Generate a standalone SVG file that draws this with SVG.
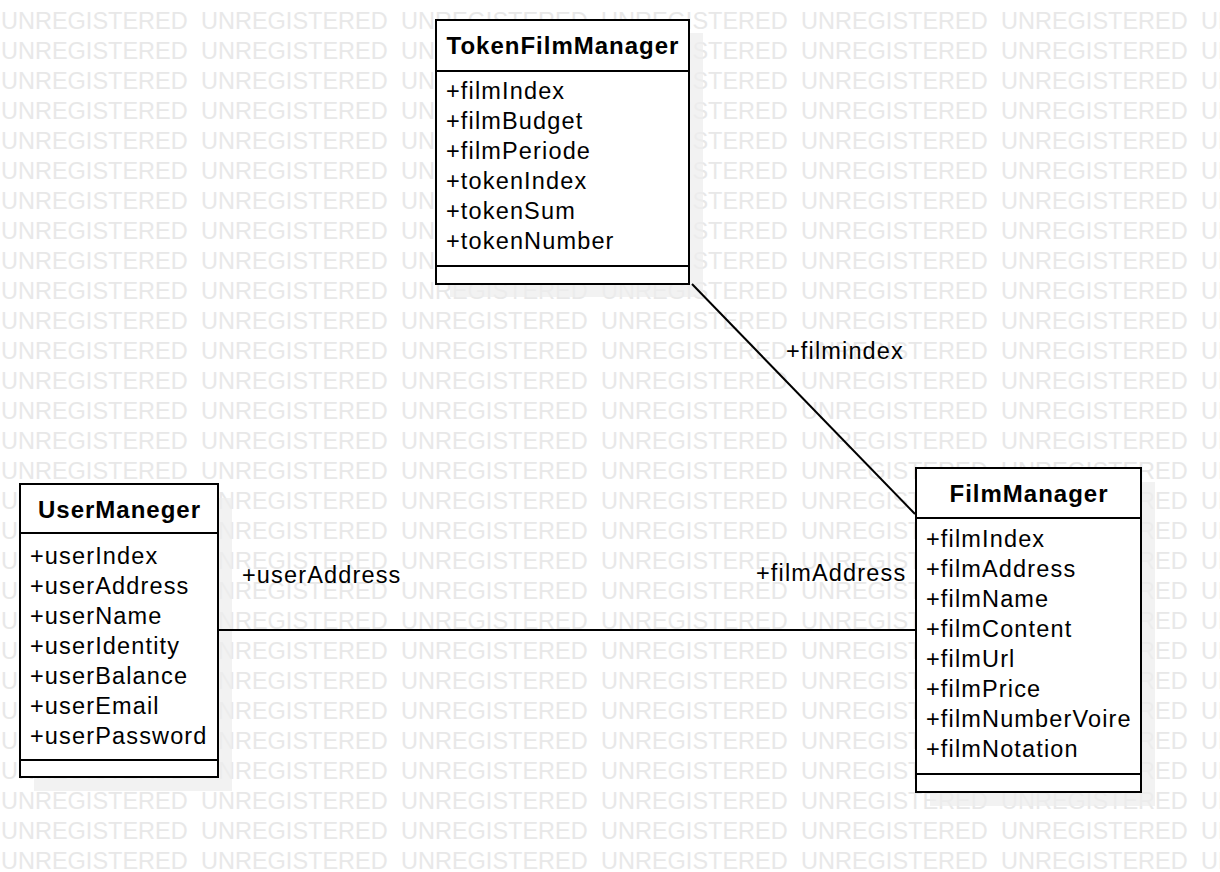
<svg xmlns="http://www.w3.org/2000/svg" xmlns:xlink="http://www.w3.org/1999/xlink" width="1220" height="872" viewBox="0 0 1220 872">
<style>
.wm{font-family:"Liberation Sans",Arial,sans-serif;font-size:23.5px;fill:#e8e8e8}
.box{fill:#ffffff;stroke:#000000;stroke-width:2}
.sep{stroke:#000000;stroke-width:2}
.shadow{fill:#eeeeee;fill-opacity:0.75}
.title{font-family:"Liberation Sans",Arial,sans-serif;font-size:24px;font-weight:bold;letter-spacing:1px;fill:#000000;text-anchor:middle}
.attr{font-family:"Liberation Sans",Arial,sans-serif;font-size:23.5px;letter-spacing:1.15px;fill:#000000}
.edge{stroke:#000000;stroke-width:2;fill:none}
</style>
<defs>
<text id="wmrow" class="wm" y="0"><tspan x="1">UNREGISTERED</tspan><tspan x="201">UNREGISTERED</tspan><tspan x="401">UNREGISTERED</tspan><tspan x="601">UNREGISTERED</tspan><tspan x="801">UNREGISTERED</tspan><tspan x="1001">UNREGISTERED</tspan><tspan x="1201">UNREGISTERED</tspan></text>
</defs>
<rect width="1220" height="872" fill="#ffffff"/>
<g id="watermark">
<use xlink:href="#wmrow" y="29"/><use xlink:href="#wmrow" y="59"/><use xlink:href="#wmrow" y="89"/><use xlink:href="#wmrow" y="119"/><use xlink:href="#wmrow" y="149"/><use xlink:href="#wmrow" y="179"/><use xlink:href="#wmrow" y="209"/><use xlink:href="#wmrow" y="239"/><use xlink:href="#wmrow" y="269"/><use xlink:href="#wmrow" y="299"/><use xlink:href="#wmrow" y="329"/><use xlink:href="#wmrow" y="359"/><use xlink:href="#wmrow" y="389"/><use xlink:href="#wmrow" y="419"/><use xlink:href="#wmrow" y="449"/><use xlink:href="#wmrow" y="479"/><use xlink:href="#wmrow" y="509"/><use xlink:href="#wmrow" y="539"/><use xlink:href="#wmrow" y="569"/><use xlink:href="#wmrow" y="599"/><use xlink:href="#wmrow" y="629"/><use xlink:href="#wmrow" y="659"/><use xlink:href="#wmrow" y="689"/><use xlink:href="#wmrow" y="719"/><use xlink:href="#wmrow" y="749"/><use xlink:href="#wmrow" y="779"/><use xlink:href="#wmrow" y="809"/><use xlink:href="#wmrow" y="839"/><use xlink:href="#wmrow" y="869"/>
</g>
<g id="shadows">
<rect class="shadow" x="450" y="33" width="253" height="264"/>
<rect class="shadow" x="34" y="498" width="198" height="293"/>
<rect class="shadow" x="930" y="482" width="225" height="324"/>
</g>
<g id="connectors">
<line class="edge" x1="692" y1="284" x2="915" y2="514" stroke-width="1.7"/>
<text class="attr" x="786" y="359">+filmindex</text>
<line class="edge" x1="219" y1="630" x2="915" y2="630"/>
<text class="attr" x="242" y="583">+userAddress</text>
<text class="attr" x="756" y="581">+filmAddress</text>
</g>
<g id="TokenFilmManager">
<rect class="box" x="436" y="20" width="253" height="264"/>
<line class="sep" x1="436" y1="71" x2="689" y2="71"/>
<line class="sep" x1="436" y1="266" x2="689" y2="266"/>
<text class="title" x="563" y="53.5">TokenFilmManager</text>
<text class="attr" x="446" y="99">+filmIndex</text>
<text class="attr" x="446" y="129">+filmBudget</text>
<text class="attr" x="446" y="159">+filmPeriode</text>
<text class="attr" x="446" y="189">+tokenIndex</text>
<text class="attr" x="446" y="219">+tokenSum</text>
<text class="attr" x="446" y="249">+tokenNumber</text>
</g>
<g id="UserManeger">
<rect class="box" x="20" y="484" width="198" height="293"/>
<line class="sep" x1="20" y1="533" x2="218" y2="533"/>
<line class="sep" x1="20" y1="760" x2="218" y2="760"/>
<text class="title" x="119.5" y="518">UserManeger</text>
<text class="attr" x="30" y="564">+userIndex</text>
<text class="attr" x="30" y="594">+userAddress</text>
<text class="attr" x="30" y="624">+userName</text>
<text class="attr" x="30" y="654">+userIdentity</text>
<text class="attr" x="30" y="684">+userBalance</text>
<text class="attr" x="30" y="714">+userEmail</text>
<text class="attr" x="30" y="744">+userPassword</text>
</g>
<g id="FilmManager">
<rect class="box" x="916" y="468" width="225" height="324"/>
<line class="sep" x1="916" y1="518" x2="1141" y2="518"/>
<line class="sep" x1="916" y1="774" x2="1141" y2="774"/>
<text class="title" x="1029" y="502">FilmManager</text>
<text class="attr" x="926" y="547">+filmIndex</text>
<text class="attr" x="926" y="577">+filmAddress</text>
<text class="attr" x="926" y="607">+filmName</text>
<text class="attr" x="926" y="637">+filmContent</text>
<text class="attr" x="926" y="667">+filmUrl</text>
<text class="attr" x="926" y="697">+filmPrice</text>
<text class="attr" x="926" y="727">+filmNumberVoire</text>
<text class="attr" x="926" y="757">+filmNotation</text>
</g>
</svg>
